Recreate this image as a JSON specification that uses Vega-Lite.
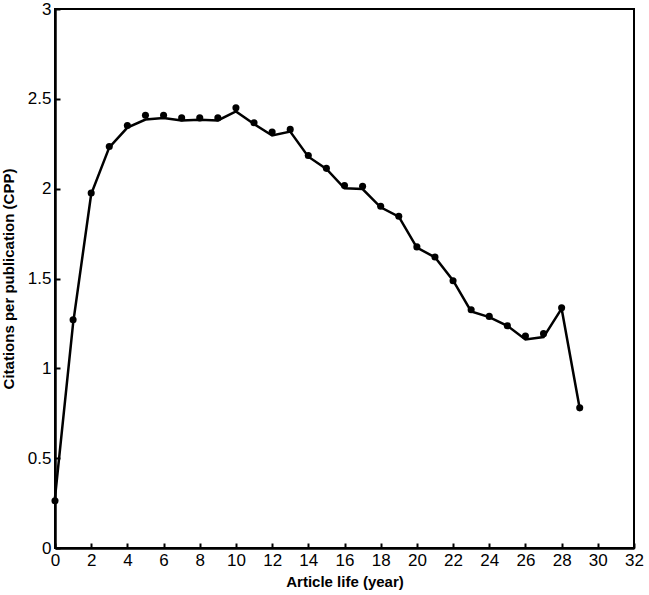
{
  "$schema": "https://vega.github.io/schema/vega-lite/v6.json",
  "width": 579,
  "height": 539,
  "autosize": "none",
  "padding": {"left": 55, "top": 9, "right": 15, "bottom": 47},
  "background": "white",
  "config": {
    "view": {"stroke": "black", "strokeWidth": 2},
    "axis": {
      "domainColor": "black", "domainWidth": 2.5,
      "tickColor": "black", "tickWidth": 2, "tickSize": -5,
      "labelFont": "Liberation Sans", "labelFontSize": 17, "labelColor": "black",
      "titleFont": "Liberation Sans", "titleFontSize": 15, "titleFontWeight": "bold", "titleColor": "black",
      "grid": false
    }
  },
  "datasets": {
    "pts": [
      {"year": 0, "cpp": 0.263}, {"year": 1, "cpp": 1.27}, {"year": 2, "cpp": 1.976},
      {"year": 3, "cpp": 2.235}, {"year": 4, "cpp": 2.352}, {"year": 5, "cpp": 2.409},
      {"year": 6, "cpp": 2.409}, {"year": 7, "cpp": 2.394}, {"year": 8, "cpp": 2.394},
      {"year": 9, "cpp": 2.394}, {"year": 10, "cpp": 2.45}, {"year": 11, "cpp": 2.367},
      {"year": 12, "cpp": 2.315}, {"year": 13, "cpp": 2.33}, {"year": 14, "cpp": 2.185},
      {"year": 15, "cpp": 2.113}, {"year": 16, "cpp": 2.018}, {"year": 17, "cpp": 2.013},
      {"year": 18, "cpp": 1.902}, {"year": 19, "cpp": 1.846}, {"year": 20, "cpp": 1.676},
      {"year": 21, "cpp": 1.62}, {"year": 22, "cpp": 1.487}, {"year": 23, "cpp": 1.326},
      {"year": 24, "cpp": 1.289}, {"year": 25, "cpp": 1.237}, {"year": 26, "cpp": 1.18},
      {"year": 27, "cpp": 1.193}, {"year": 28, "cpp": 1.337}, {"year": 29, "cpp": 0.78}
    ],
    "fit": [
      {"year": 0, "cpp": 0.28}, {"year": 1, "cpp": 1.25}, {"year": 2, "cpp": 1.97},
      {"year": 3, "cpp": 2.23}, {"year": 4, "cpp": 2.34}, {"year": 5, "cpp": 2.385},
      {"year": 6, "cpp": 2.393}, {"year": 7, "cpp": 2.38}, {"year": 8, "cpp": 2.383},
      {"year": 9, "cpp": 2.38}, {"year": 10, "cpp": 2.43}, {"year": 11, "cpp": 2.36},
      {"year": 12, "cpp": 2.296}, {"year": 13, "cpp": 2.318}, {"year": 14, "cpp": 2.178},
      {"year": 15, "cpp": 2.11}, {"year": 16, "cpp": 2.002}, {"year": 17, "cpp": 1.998},
      {"year": 18, "cpp": 1.896}, {"year": 19, "cpp": 1.844}, {"year": 20, "cpp": 1.672},
      {"year": 21, "cpp": 1.618}, {"year": 22, "cpp": 1.489}, {"year": 23, "cpp": 1.317},
      {"year": 24, "cpp": 1.285}, {"year": 25, "cpp": 1.237}, {"year": 26, "cpp": 1.161},
      {"year": 27, "cpp": 1.174}, {"year": 28, "cpp": 1.332}, {"year": 29, "cpp": 0.776}
    ]
  },
  "encoding": {
    "x": {"field": "year", "type": "quantitative",
          "scale": {"domain": [0, 32], "nice": false, "zero": false},
          "axis": {"values": [0,2,4,6,8,10,12,14,16,18,20,22,24,26,28,30,32], "tickCount": 40, "format": "d", "labelOverlap": false, "labelBound": false, "labelFlush": false, "title": "Article life (year)", "labelPadding": 9, "titlePadding": 6}},
    "y": {"field": "cpp", "type": "quantitative",
          "scale": {"domain": [0, 3], "nice": false},
          "axis": {"values": [0, 0.5, 1, 1.5, 2, 2.5, 3], "tickCount": 20, "format": "~g", "labelOverlap": false, "labelFlush": false, "title": "Citations per publication (CPP)", "labelPadding": 9, "titlePadding": 11}}
  },
  "layer": [
    {
      "data": {"name": "fit"},
      "mark": {"type": "line", "color": "black", "strokeWidth": 2.5, "clip": false}
    },
    {
      "data": {"name": "pts"},
      "mark": {"type": "circle", "color": "black", "opacity": 1, "size": 50, "clip": false}
    }
  ]
}
